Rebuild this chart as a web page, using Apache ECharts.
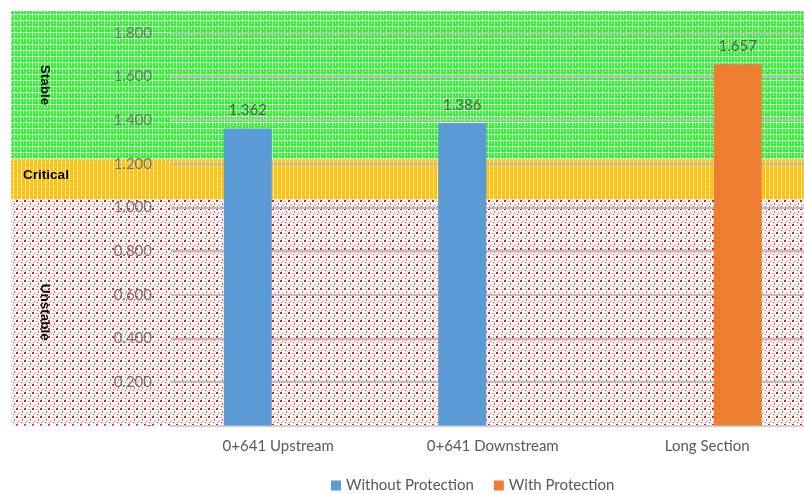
<!DOCTYPE html>
<html>
<head>
<meta charset="utf-8">
<script src="https://cdn.jsdelivr.net/npm/echarts@6/dist/echarts.min.js"></script>
<style>
  html, body { margin: 0; padding: 0; background: #fff; }
  #chart { width: 804px; height: 494px; }
</style>
</head>
<body>
<div id="chart"></div>
<script>
const categories = ['0+641 Upstream', '0+641 Downstream', 'Long Section'];
const withoutProtection = [1.362, 1.386, null];
const withProtection = [null, null, 1.657];
const yTicks = [0, 0.2, 0.4, 0.6, 0.8, 1.0, 1.2, 1.4, 1.6, 1.8];

// stability zones, bottom to top (value bounds of the background picture)
const zoneNames = ['Unstable', 'Critical', 'Stable'];
const zoneBounds = [0, 1.041, 1.225, 1.907];

function makePattern(size, base, dots) {
  const c = document.createElement('canvas');
  c.width = size; c.height = size;
  const g = c.getContext('2d');
  g.fillStyle = base;
  g.fillRect(0, 0, size, size);
  dots.forEach(d => {
    g.fillStyle = d[2];
    g.fillRect(d[0], d[1], d[3] || 1, d[4] || 1);
  });
  return { image: c, repeat: 'repeat' };
}

const greenFill = makePattern(6, '#34f234', [
  [2, 0, '#a8ffa8', 1, 6], [0, 2, '#c8ffc8', 6, 1], [2, 2, '#ffffff'],
  [5, 3, '#90ff90', 1, 3], [5, 5, '#ffffff']
]);
const orangeFill = makePattern(4, '#ffc000', [
  [1, 0, '#ffe9a8', 1, 4], [1, 1, '#ffffff'], [3, 2, '#ffd050', 1, 2]
]);
const redFill = makePattern(8, '#ffffff', [
  [0, 0, '#ff1010', 2, 2], [4, 1, '#ffa0a0', 2, 1], [6, 3, '#ff4040', 1, 2],
  [2, 4, '#ffb8b8', 2, 2], [5, 6, '#ff2020', 1, 1], [1, 6, '#ff7070', 1, 1],
  [7, 7, '#ffc8c8', 1, 1]
]);
const zoneFills = [redFill, orangeFill, greenFill];

const zoneLabels = [
  { rotate: -90, position: [34, '50%'] },
  { rotate: 0, position: [35, '40%'] },
  { rotate: -90, position: [34, '50%'] }
];

const zoneSeries = zoneNames.map((name, i) => ({
  name: name,
  type: 'bar',
  xAxisIndex: 1,
  yAxisIndex: 1,
  stack: 'zones',
  barWidth: '100%',
  z: 0,
  silent: true,
  data: [zoneBounds[i + 1] - zoneBounds[i]],
  itemStyle: { color: zoneFills[i] },
  label: {
    show: true,
    formatter: name,
    position: zoneLabels[i].position,
    rotate: zoneLabels[i].rotate,
    align: 'center',
    verticalAlign: 'middle',
    color: '#000',
    fontWeight: 'bold',
    fontSize: 13.5,
    fontFamily: 'Liberation Sans, Arial, sans-serif'
  }
}));

const font = 'Lato, Open Sans, sans-serif';
const gray = '#595959';

const valueLabel = {
  show: true,
  position: 'top',
  distance: 11,
  color: gray,
  fontSize: 15,
  fontFamily: font,
  formatter: p => p.value.toFixed(3)
};

const chart = echarts.init(document.getElementById('chart'));
chart.setOption({
  animation: false,
  grid: [
    { left: 171, width: 643.5, top: 33, bottom: 68.5, outerBoundsMode: 'none' },
    { left: 11, width: 803, top: 11, bottom: 68.5, outerBoundsMode: 'none' }
  ],
  legend: {
    top: 473,
    left: 326,
    data: ['Without Protection', 'With Protection'],
    icon: 'rect',
    itemWidth: 10,
    itemHeight: 10,
    itemGap: 20,
    textStyle: { color: gray, fontSize: 15, fontFamily: font }
  },
  xAxis: [
    {
      type: 'category',
      gridIndex: 0,
      data: categories,
      axisLine: { lineStyle: { color: '#d0d0d0', width: 2 } },
      axisTick: { show: false },
      axisLabel: { color: gray, fontSize: 15, fontFamily: font, margin: 13 },
      z: 3
    },
    {
      type: 'category',
      gridIndex: 1,
      data: ['zone'],
      show: false
    }
  ],
  yAxis: [
    {
      type: 'value',
      gridIndex: 0,
      min: yTicks[0],
      max: yTicks[yTicks.length - 1],
      interval: 0.2,
      axisLine: { show: false },
      axisTick: { show: false },
      splitLine: { lineStyle: { color: '#bdbdbd', width: 2 } },
      axisLabel: {
        color: '#737373',
        fontSize: 15,
        fontFamily: font,
        margin: 19,
        formatter: v => (v === 0 ? '-' : v.toFixed(3))
      },
      z: 3
    },
    {
      type: 'value',
      gridIndex: 1,
      min: zoneBounds[0],
      max: zoneBounds[zoneBounds.length - 1],
      show: false,
      splitLine: { show: false }
    }
  ],
  series: zoneSeries.concat([
    {
      name: 'Without Protection',
      type: 'bar',
      xAxisIndex: 0,
      yAxisIndex: 0,
      barWidth: 48,
      barGap: '27%',
      z: 5,
      data: withoutProtection,
      itemStyle: { color: '#5b9bd5' },
      label: valueLabel
    },
    {
      name: 'With Protection',
      type: 'bar',
      xAxisIndex: 0,
      yAxisIndex: 0,
      barWidth: 48,
      barGap: '27%',
      z: 5,
      data: withProtection,
      itemStyle: { color: '#ed7d31' },
      label: valueLabel
    }
  ])
});
</script>
</body>
</html>
